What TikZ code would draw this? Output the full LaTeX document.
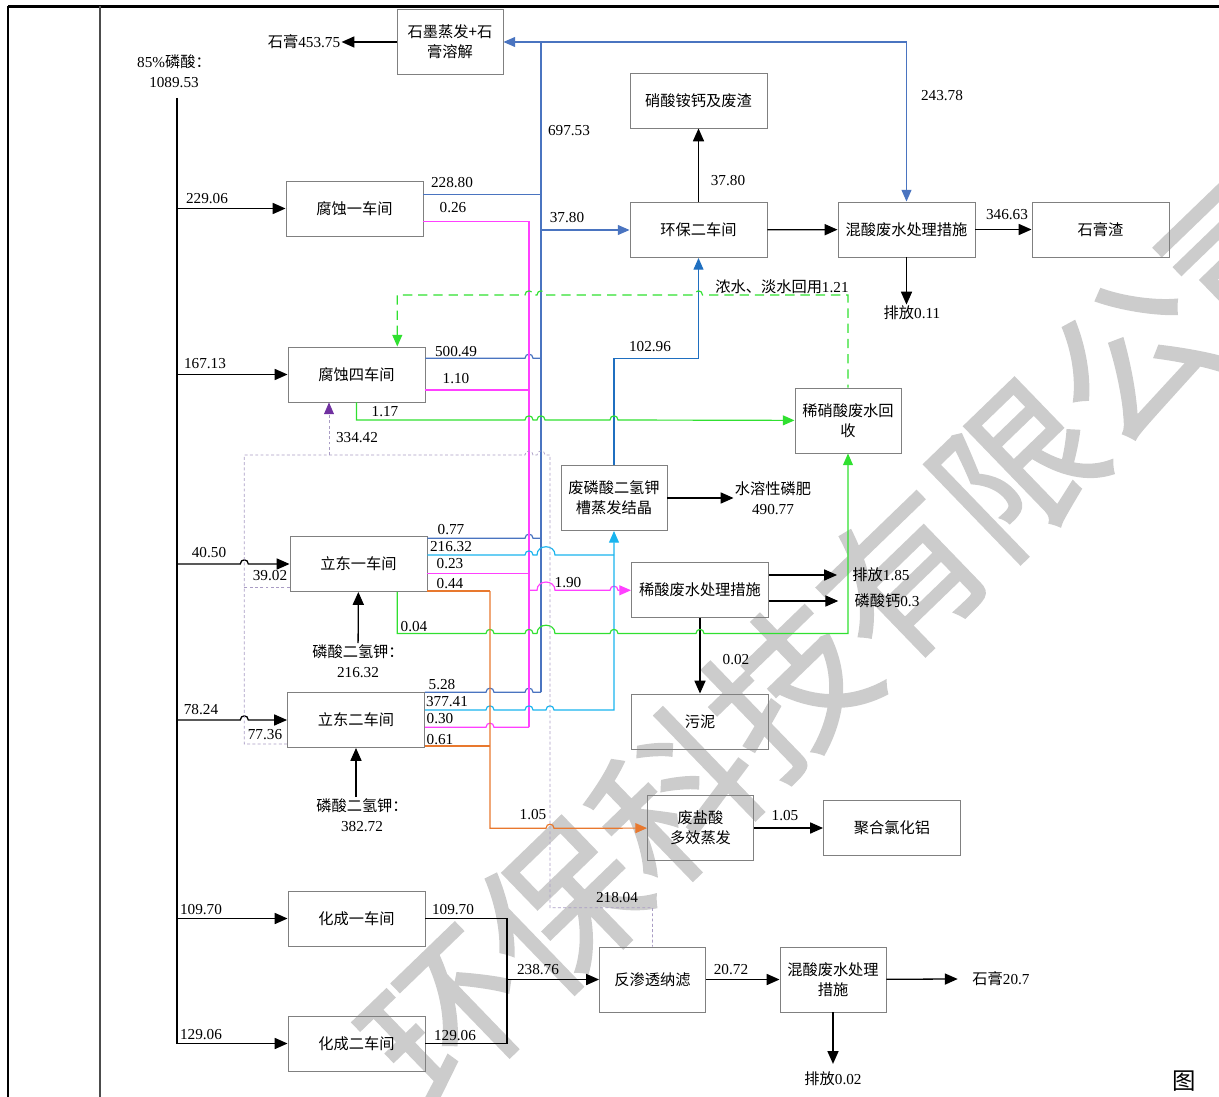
\documentclass[tikz,border=0pt]{standalone}
\usepackage{fontspec}
\setmainfont{Liberation Serif}
\newfontfamily\cjk{Noto Sans CJK SC}
\newfontfamily\wmfont[FakeBold=1.5]{Noto Sans CJK SC}
\usepackage{xcolor}
\usetikzlibrary{arrows.meta}

\definecolor{boxgray}{HTML}{808080}
\definecolor{steelflow}{HTML}{4A74C0}
\definecolor{deepflow}{HTML}{1F6FC0}
\definecolor{cyanflow}{HTML}{19B4EE}
\definecolor{pinkflow}{HTML}{FF40FF}
\definecolor{greenflow}{HTML}{30E030}
\definecolor{orangeflow}{HTML}{E8782E}
\definecolor{lavflow}{HTML}{A99CC4}
\definecolor{violettip}{HTML}{7030A0}

\newcommand\zh[1]{{\cjk #1}}
% small bridge where a line crosses another one
\newcommand\hopover[2]{-- ({#1-4},#2) .. controls +(0,-5.5) and +(0,-5.5) .. ({#1+4},#2)}
\newcommand\bighop[2]{-- ({#1-9},#2) .. controls +(0,-11) and +(0,-11) .. ({#1+9},#2)}

\begin{document}
\begin{tikzpicture}[x=0.03cm,y=-0.03cm,font=\fontsize{13}{17}\selectfont,
  >={Triangle[length=11pt,width=9.5pt]},
  box/.style={draw=boxgray,line width=0.8pt,minimum width=4.11cm,minimum height=1.65cm,
    inner sep=1pt,align=center,font=\fontsize{13}{17}\selectfont\cjk},
  sbox/.style={box,minimum width=3.18cm,minimum height=1.95cm},
  lbl/.style={inner sep=1pt},
  feed/.style={line width=1.1pt,->},
  tipin/.style={-{Triangle[length=10pt,width=8.5pt]}},
  tipback/.style={{Triangle[length=10pt,width=8.5pt]}-},
  sflow/.style={draw=steelflow,line width=1pt},
  dflow/.style={draw=deepflow,line width=1pt},
  cflow/.style={draw=cyanflow,line width=1pt},
  pflow/.style={draw=pinkflow,line width=1pt},
  gflow/.style={draw=greenflow,line width=1pt},
  gdash/.style={gflow,dash pattern=on 8pt off 5pt},
  oflow/.style={draw=orangeflow,line width=1pt},
  ldash/.style={draw=lavflow,line width=0.6pt,dash pattern=on 2.5pt off 2pt}]
\useasboundingbox (0,0) rectangle (1219,1097);

% watermark
\begin{scope}
\clip (0,0) rectangle (1219,1097);
\node[rotate=44,text=black!20,font=\fontsize{135}{135}\selectfont\wmfont] (wmark) at (846,632) {环保科技有限公司};
\end{scope}

% frame
\draw[line width=2.2pt] (8,6.5) -- (1219,6.5);
\draw[line width=1.2pt] (8,6) -- (8,1097);
\draw[line width=1.2pt,black!70] (100,6) -- (100,1097);

% workshops and treatment steps
\node[box] (fs1) at (354.5,208.5) {腐蚀一车间};
\node[box] (fs4) at (356.5,374.5) {腐蚀四车间};
\node[box] (ld1) at (358.5,564) {立东一车间};
\node[box] (ld2) at (356,720) {立东二车间};
\node[box] (hc1) at (356.5,918.5) {化成一车间};
\node[box] (hc2) at (356.5,1043.5) {化成二车间};
\node[sbox] (smzf) at (450,42) {石墨蒸发+石\\膏溶解};
\node[box] (xsag) at (698.5,100.5) {硝酸铵钙及废渣};
\node[box] (hb2) at (698.5,230) {环保二车间};
\node[box] (hsfs) at (906.5,229.5) {混酸废水处理措施};
\node[box] (sgz) at (1100.5,229.5) {石膏渣};
\node[sbox] (xxsf) at (848,420.5) {稀硝酸废水回\\收};
\node[sbox] (flsj) at (614,498) {废磷酸二氢钾\\槽蒸发结晶};
\node[box] (xsfs) at (700,590) {稀酸废水处理措施};
\node[box] (wuni) at (700,721.5) {污泥};
\node[sbox] (fysz) at (700.5,828) {废盐酸\\多效蒸发};
\node[box] (jhly) at (892,828) {聚合氯化铝};
\node[sbox] (fstl) at (652.5,979.5) {反渗透纳滤};
\node[sbox] (hsfs2) at (833,979.5) {混酸废水处理\\措施};

% inputs and outputs as text
\node[lbl,align=center] (h3po4) at (174,71) {85\%\zh{磷酸：}\\1089.53};
\node[lbl] (gyp1) at (304,42) {\zh{石膏}453.75};
\node[lbl,align=center] (sfl) at (773,498) {\zh{水溶性磷肥}\\490.77};
\node[lbl] (pf185) at (881,575) {\zh{排放}1.85};
\node[lbl] (lsg) at (887,601) {\zh{磷酸钙}0.3};
\node[lbl] (pf011) at (912,313) {\zh{排放}0.11};
\node[lbl,align=center] (kdp1) at (358,661) {\zh{磷酸二氢钾：}\\216.32};
\node[lbl,align=center] (kdp2) at (362,815) {\zh{磷酸二氢钾：}\\382.72};
\node[lbl] (gyp2) at (1001,979) {\zh{石膏}20.7};
\node[lbl] (pf002) at (833,1079) {\zh{排放}0.02};
\node[lbl,font=\fontsize{20}{20}\selectfont\cjk] (fig) at (1184,1081) {图};

% phosphoric acid main line
\coordinate (trunk) at (177,98);
\draw[line width=2.4pt] (trunk) -- (177,565);
\draw[line width=1.3pt] (177,564) -- (177,1043.5);
\draw[feed] (fs1 -| trunk) -- (fs1);
\draw[feed] (fs4 -| trunk) -- (fs4);
\draw[feed] (ld1 -| trunk) \hopover{244.3}{564} -- (ld1);
\draw[feed] (ld2 -| trunk) \hopover{244.3}{720} -- (ld2);
\draw[feed] (hc1 -| trunk) -- (hc1);
\draw[feed] (hc2 -| trunk) -- (hc2);

% black connectors
\draw[feed] (smzf) -- (gyp1);
\draw[feed] (hb2) -- (xsag);
\draw[feed] (hb2) -- (hsfs);
\draw[feed] (hsfs) -- (sgz);
\draw[feed] (hsfs.south) -- (hsfs.south |- pf011.north);
\draw[feed] (flsj) -- (sfl);
\draw[feed] (xsfs.east |- pf185) -- ([xshift=-0.42cm]pf185.west);
\draw[feed] (xsfs.east |- lsg) -- ([xshift=-0.45cm]lsg.west);
\draw[feed] (xsfs) -- (wuni);
\draw[feed] (fysz) -- (jhly);
\draw[feed] (kdp1) -- (ld1);
\draw[feed] (ld2.south |- kdp2.north) -- (ld2.south);
\draw[line width=1.1pt] (hc1) -| (507,1043.5) -- (hc2);
\draw[feed] (507,979.5) -- (fstl);
\draw[feed] (fstl) -- (hsfs2);
\draw[feed] (hsfs2) -- ([xshift=-0.4cm]gyp2.west);
\draw[feed] (hsfs2) -- ([yshift=0.2cm]pf002.north);

% blue: to graphite / mixed acid treatment
\coordinate (jtop) at (541,42);
\coordinate (jhb) at (541,230);
\draw[sflow] (fs1.east |- 0,194.5) -- (541,194.5);
\draw[sflow,tipin] (jtop) -- (smzf);
\draw[sflow,tipin] (jtop) -| (hsfs);
\draw[sflow] (jtop) -- (jhb);
\draw[sflow,line width=1.7pt] (jhb) -- (541,692.3);
\draw[sflow,tipin] (jhb) -- (hb2);
\draw[sflow] (fs4.east |- 0,358.3) \hopover{529}{358.3} -- (541,358.3);
\draw[sflow] (ld1.east |- 0,538.3) \hopover{529}{538.3} -- (541,538.3);
\draw[sflow] (ld2.east |- 0,692.3) \hopover{490}{692.3} \hopover{529}{692.3} -- (541,692.3);

% pink: dilute acid
\draw[pflow] (fs1.east |- 0,221.7) -| (529,727.3);
\draw[pflow] (fs4.east |- 0,390) -- (529,390);
\draw[pflow] (ld1.east |- 0,573.3) -- (529,573.3);
\draw[pflow] (ld2.east |- 0,727.3) \hopover{490}{727.3} -- (529,727.3);
\draw[pflow,tipin] (529,590.3) \bighop{546}{590.3} \hopover{614}{590.3} -- (xsfs);

% cyan: potassium phosphate liquor
\draw[cflow] (ld1.east |- 0,555) \hopover{529}{555} \bighop{546}{555} -- (614,555);
\draw[cflow,tipin] (ld2.east |- 0,710) \hopover{490}{710} \hopover{529}{710} \hopover{550}{710} -- (614,710) -- (flsj);

% deep blue
\draw[dflow,tipin] (flsj) |- (698.5,358.3) -- (hb2);

% green: dilute nitric acid
\draw[gflow,tipin] (fs4.south) -- (356.5,420) \hopover{529}{420} \hopover{541}{420} \hopover{614}{420} -- (xxsf);
\draw[gflow,tipin] (ld1.south -| 397.3,0) -- (397.3,633.5) \hopover{490}{633.5} \hopover{529}{633.5}
  \bighop{546}{633.5} \hopover{614}{633.5} \hopover{700}{633.5} -| (xxsf);
\draw[gdash,tipback] (fs4.north -| 397.3,0) -- (397.3,295) \hopover{529}{295} \hopover{541}{295}
  \hopover{698.5}{295} -| (xxsf);

% orange: waste hydrochloric acid
\draw[oflow] (ld1.east |- 0,591) -- (490,591);
\draw[oflow] (ld2.east |- 0,746) -- (490,746);
\draw[oflow,tipin] (490,591) |- (546,828.3) \hopover{550}{828.3} -- (fysz);

% dashed: recycled water
\draw[ldash] (ld1.west |- 0,587.3) -- (244.3,587.3);
\draw[ldash] (ld2.west |- 0,744) -| (244.3,455) \hopover{529}{455} \hopover{541}{455} -- (550,455)
  -- (550,907.7) -| (fstl);
\draw[ldash,-{Triangle[length=10pt,width=8.5pt,color=violettip]}] (329,455) -- (fs4.south -| 329,0);

% flow values
\node[lbl] (n22906) at (207,199) {229.06};
\node[lbl] (n16713) at (205,364) {167.13};
\node[lbl] (n4050) at (209,553) {40.50};
\node[lbl] (n3902) at (270,576) {39.02};
\node[lbl] (n7824) at (201,710) {78.24};
\node[lbl] (n7736) at (265,735) {77.36};
\node[lbl] (n10970a) at (201,910) {109.70};
\node[lbl] (n12906a) at (201,1035) {129.06};
\node[lbl] (n22880) at (452,183) {228.80};
\node[lbl] (n026) at (453,208) {0.26};
\node[lbl] (n69753) at (569,131) {697.53};
\node[lbl] (n24378) at (942,96) {243.78};
\node[lbl] (n3780a) at (567,218) {37.80};
\node[lbl] (n3780b) at (728,181) {37.80};
\node[lbl] (n34663) at (1007,215) {346.63};
\node[lbl] (n121) at (782,287) {\zh{浓水、淡水回用}1.21};
\node[lbl] (n50049) at (456,352) {500.49};
\node[lbl] (n110) at (456,379) {1.10};
\node[lbl] (n117) at (385,412) {1.17};
\node[lbl] (n33442) at (357,438) {334.42};
\node[lbl] (n10296) at (650,347) {102.96};
\node[lbl] (n077) at (451,530) {0.77};
\node[lbl] (n21632) at (451,547) {216.32};
\node[lbl] (n023) at (450,564) {0.23};
\node[lbl] (n044) at (450,584) {0.44};
\node[lbl] (n190) at (568,583) {1.90};
\node[lbl] (n004) at (414,627) {0.04};
\node[lbl] (n002) at (736,660) {0.02};
\node[lbl] (n528) at (442,685) {5.28};
\node[lbl] (n37741) at (447,702) {377.41};
\node[lbl] (n030) at (440,719) {0.30};
\node[lbl] (n061) at (440,740) {0.61};
\node[lbl] (n105a) at (533,815) {1.05};
\node[lbl] (n105b) at (785,816) {1.05};
\node[lbl] (n21804) at (617,898) {218.04};
\node[lbl] (n10970b) at (453,910) {109.70};
\node[lbl] (n12906b) at (455,1036) {129.06};
\node[lbl] (n23876) at (538,970) {238.76};
\node[lbl] (n2072) at (731,970) {20.72};
\end{tikzpicture}
\end{document}
